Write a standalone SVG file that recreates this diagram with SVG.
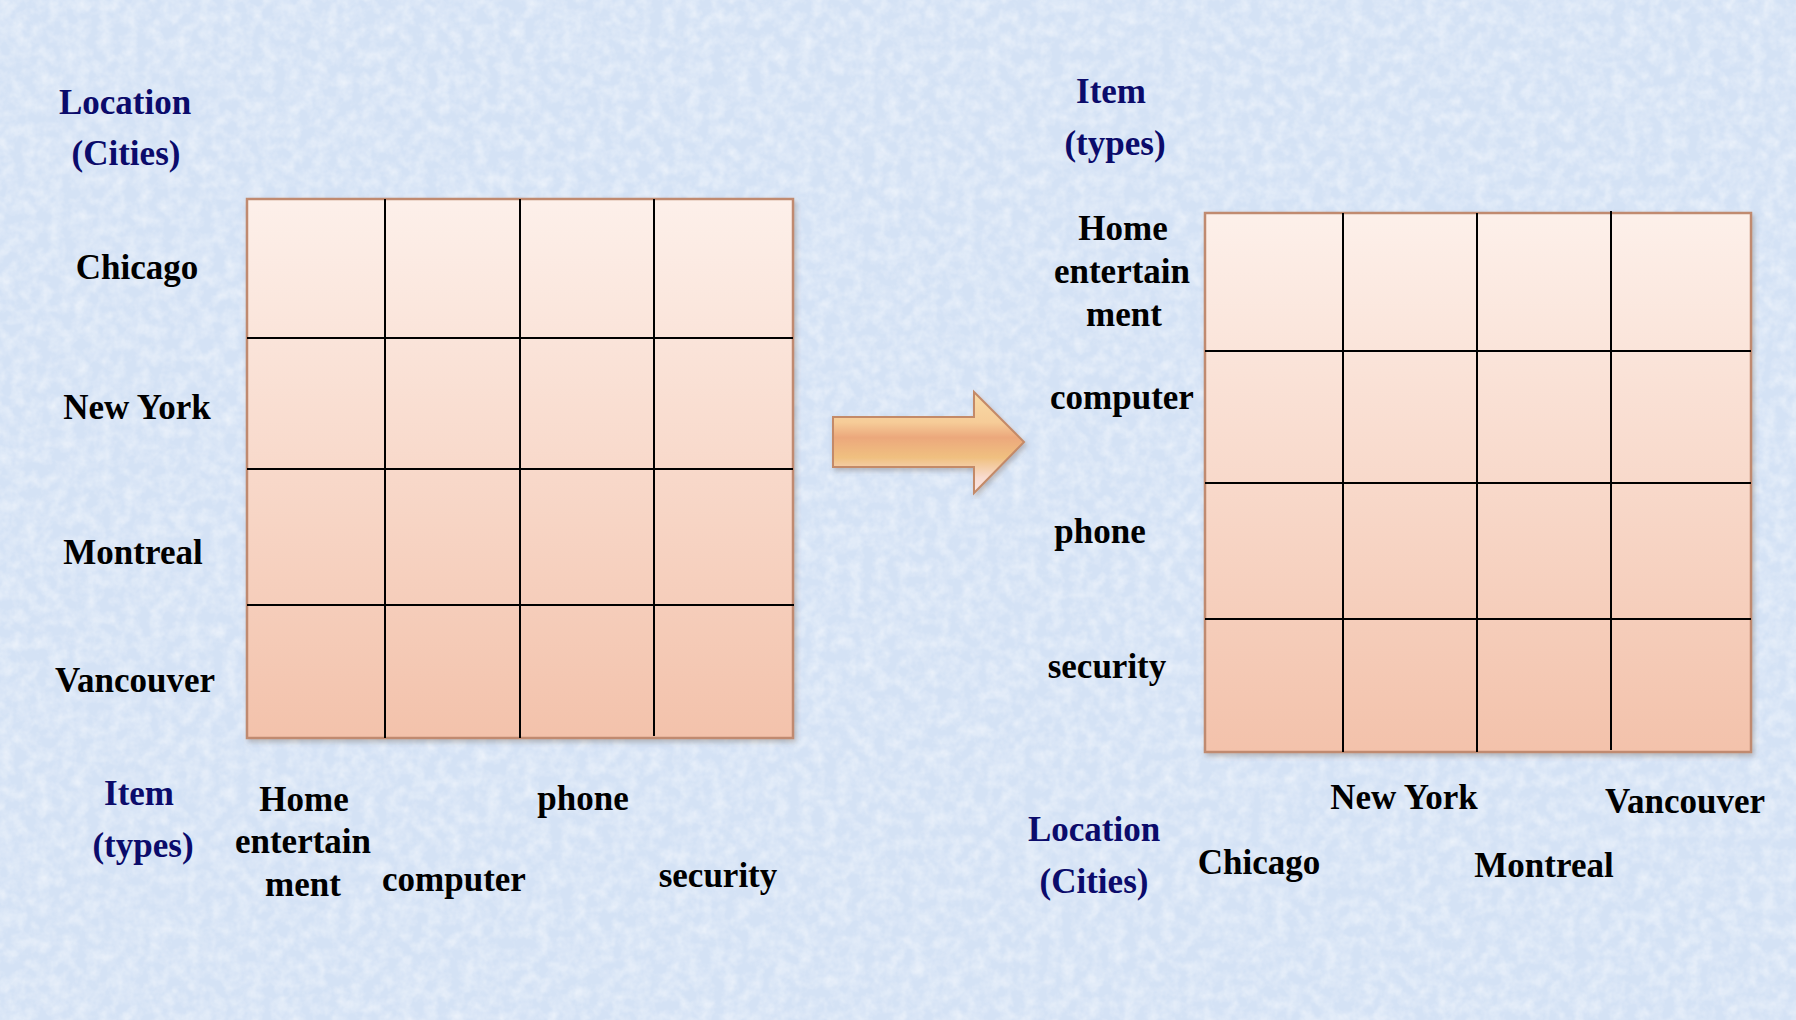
<svg xmlns="http://www.w3.org/2000/svg" width="1796" height="1020" viewBox="0 0 1796 1020">
<defs>
<linearGradient id="cellGrad" x1="0" y1="0" x2="0" y2="1">
<stop offset="0" stop-color="#fdf0ea"/>
<stop offset="1" stop-color="#f3c2ab"/>
</linearGradient>
<linearGradient id="arrowGrad" x1="0" y1="0" x2="0" y2="1">
<stop offset="0" stop-color="#f9dca8"/>
<stop offset="0.3" stop-color="#f6cc98"/>
<stop offset="0.45" stop-color="#eca87c"/>
<stop offset="0.65" stop-color="#f0c080"/>
<stop offset="0.85" stop-color="#f9dcd0"/>
<stop offset="1" stop-color="#fbe6e6"/>
</linearGradient>
<filter id="noise" x="0" y="0" width="100%" height="100%">
<feTurbulence type="fractalNoise" baseFrequency="0.08" numOctaves="3" seed="4" result="t"/>
<feColorMatrix in="t" type="matrix" values="0 0 0 0 1  0 0 0 0 1  0 0 0 0 1  0 0 0 -1.6 1.05" result="w"/>
<feComposite in="w" in2="SourceGraphic" operator="in"/>
</filter>
<filter id="shadow" x="-5%" y="-5%" width="110%" height="110%">
<feDropShadow dx="2" dy="3" stdDeviation="2.5" flood-color="#6a5a50" flood-opacity="0.35"/>
</filter>
<style>
.lbl{font-family:"Liberation Serif","Times New Roman",serif;font-weight:bold;font-size:35px;fill:#000;text-anchor:middle}
.axis{fill:#0b0b6b}
.frame{fill:url(#cellGrad);stroke:#c08a70;stroke-width:2.5}
.gl{stroke:#000;stroke-width:2}
</style>
</defs>

<rect x="0" y="0" width="1796" height="1020" fill="#d4e2f5"/>
<rect x="0" y="0" width="1796" height="1020" fill="#d4e2f5" filter="url(#noise)" opacity="0.55"/>

<g id="left-cube">
<rect class="frame" x="247" y="199" width="546" height="539" filter="url(#shadow)"/>
<g class="gl">
<line x1="385" y1="199" x2="385" y2="738"/>
<line x1="520" y1="199" x2="520" y2="738"/>
<line x1="654" y1="199" x2="654" y2="736"/>
<line x1="247" y1="338" x2="793" y2="338"/>
<line x1="247" y1="469" x2="793" y2="469"/>
<line x1="247" y1="605" x2="794" y2="605"/>
</g>
</g>

<g id="right-cube">
<rect class="frame" x="1205" y="213" width="546" height="539" filter="url(#shadow)"/>
<g class="gl">
<line x1="1343" y1="213" x2="1343" y2="752"/>
<line x1="1477" y1="213" x2="1477" y2="752"/>
<line x1="1611" y1="211" x2="1611" y2="750"/>
<line x1="1205" y1="351" x2="1751" y2="351"/>
<line x1="1205" y1="483" x2="1751" y2="483"/>
<line x1="1205" y1="619" x2="1751" y2="619"/>
</g>
</g>

<g id="connectors">
<path d="M833,417 L974,417 L974,392 L1024,442 L974,493 L974,467 L833,467 Z" fill="url(#arrowGrad)" stroke="#c48a68" stroke-width="2" stroke-linejoin="miter" filter="url(#shadow)"/>
</g>

<g id="left-labels">
<text class="lbl axis" x="125" y="114">Location</text>
<text class="lbl axis" x="126" y="165">(Cities)</text>
<text class="lbl" x="137" y="279">Chicago</text>
<text class="lbl" x="137" y="419">New York</text>
<text class="lbl" x="133" y="564">Montreal</text>
<text class="lbl" x="135" y="692">Vancouver</text>
<text class="lbl axis" x="139" y="805">Item</text>
<text class="lbl axis" x="143" y="857">(types)</text>
<text class="lbl" x="304" y="811">Home</text>
<text class="lbl" x="303" y="853">entertain</text>
<text class="lbl" x="303" y="896">ment</text>
<text class="lbl" x="454" y="891">computer</text>
<text class="lbl" x="583" y="810">phone</text>
<text class="lbl" x="718" y="887">security</text>
</g>

<g id="right-labels">
<text class="lbl axis" x="1111" y="103">Item</text>
<text class="lbl axis" x="1115" y="155">(types)</text>
<text class="lbl" x="1123" y="240">Home</text>
<text class="lbl" x="1122" y="283">entertain</text>
<text class="lbl" x="1124" y="326">ment</text>
<text class="lbl" x="1122" y="409">computer</text>
<text class="lbl" x="1100" y="543">phone</text>
<text class="lbl" x="1107" y="678">security</text>
<text class="lbl" x="1404" y="809">New York</text>
<text class="lbl" x="1685" y="813">Vancouver</text>
<text class="lbl axis" x="1094" y="841">Location</text>
<text class="lbl axis" x="1094" y="893">(Cities)</text>
<text class="lbl" x="1259" y="874">Chicago</text>
<text class="lbl" x="1544" y="877">Montreal</text>
</g>
</svg>
